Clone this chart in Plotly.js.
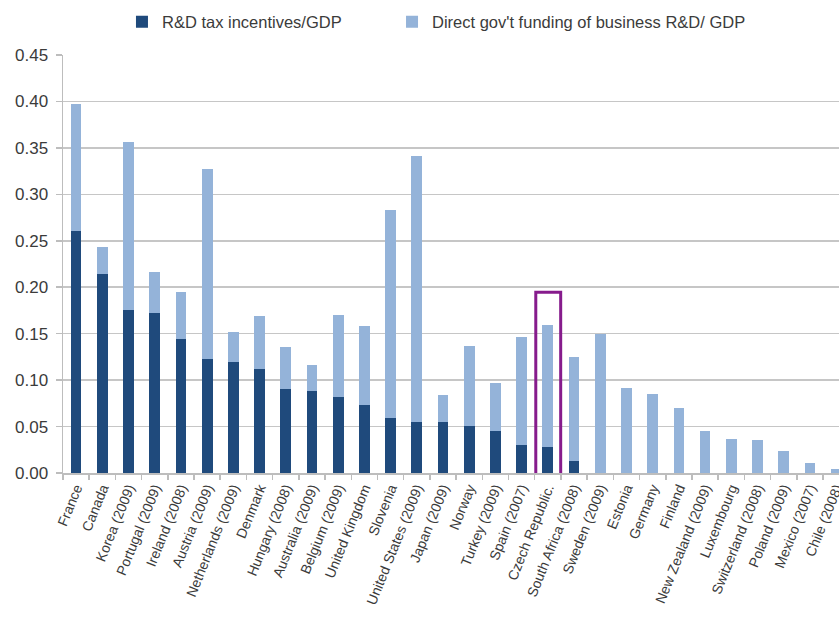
<!DOCTYPE html>
<html>
<head>
<meta charset="utf-8">
<script src="https://cdn.plot.ly/plotly-3.0.1.min.js"></script>
<style>html,body{margin:0;padding:0;background:#fff;overflow:hidden}#chart{width:839px;height:617px}</style>
</head>
<body>
<div id="chart"></div>
<script>
const countries = ["France","Canada","Korea (2009)","Portugal (2009)","Ireland (2008)","Austria (2009)","Netherlands (2009)","Denmark","Hungary (2008)","Australia (2009)","Belgium (2009)","United Kingdom","Slovenia","United States (2009)","Japan (2009)","Norway","Turkey (2009)","Spain (2007)","Czech Republic.","South Africa (2008)","Sweden (2009)","Estonia","Germany","Finland","New Zealand (2009)","Luxembourg","Switzerland (2008)","Poland (2009)","Mexico (2007)","Chile (2008)"];
const taxIncentives = [0.260,0.214,0.175,0.172,0.144,0.123,0.120,0.112,0.090,0.088,0.082,0.073,0.059,0.055,0.055,0.051,0.045,0.030,0.028,0.013,0,0,0,0,0,0,0,0,0,0];
const directFunding = [0.137,0.029,0.181,0.044,0.051,0.204,0.032,0.057,0.046,0.028,0.088,0.085,0.224,0.286,0.029,0.086,0.052,0.116,0.131,0.112,0.150,0.091,0.085,0.070,0.045,0.037,0.036,0.024,0.011,0.004];
const seriesNames = ["R&D tax incentives/GDP","Direct gov't funding of business R&D/ GDP"];
const yTicks = [0,0.05,0.10,0.15,0.20,0.25,0.30,0.35,0.40,0.45];

const FONT = "'Liberation Sans',Arial,sans-serif";
const TXT = "#3b3b3b";

const traces = [
  {type:"bar", name:seriesNames[0], x:countries, y:taxIncentives, marker:{color:"#1f4a7c"}, legend:"legend"},
  {type:"bar", name:seriesNames[1], x:countries, y:directFunding, marker:{color:"#94b3d9"}, legend:"legend2"}
];

const legendCommon = {orientation:"h", xanchor:"left", y:1.079, yanchor:"middle",
  font:{family:FONT, size:16.5, color:TXT}, itemwidth:30, bgcolor:"rgba(0,0,0,0)"};

const layout = {
  width:839, height:617,
  margin:{l:63, r:0, t:55, b:144},
  barmode:"stack", bargap:0.59,
  paper_bgcolor:"#fff", plot_bgcolor:"#fff",
  font:{family:FONT, color:TXT},
  showlegend:true,
  legend:Object.assign({}, legendCommon, {x:0.076}),
  legend2:Object.assign({}, legendCommon, {x:0.424}),
  xaxis:{type:"category", range:[-0.5,29.11], tickangle:-68, tickson:"boundaries",
         ticks:"outside", ticklen:5, tickcolor:"#bdbdbd", tickwidth:1.5,
         showline:true, linecolor:"#bdbdbd", linewidth:1.5, showgrid:false,
         tickfont:{family:FONT, size:14, color:TXT}, fixedrange:true},
  yaxis:{range:[0,0.45], tickvals:yTicks, tickformat:".2f",
         ticks:"outside", ticklen:6, tickcolor:"#bdbdbd", tickwidth:1.5,
         showline:true, linecolor:"#bdbdbd", linewidth:1.5,
         showgrid:true, gridcolor:"#c6c6c6", gridwidth:1.5, zeroline:false,
         tickfont:{family:FONT, size:17, color:TXT}, ticklabelstandoff:4},
  shapes:[{type:"rect", xref:"x", yref:"y", x0:17.54, x1:18.49, y0:-0.007, y1:0.1945,
           line:{color:"#861b8c", width:3}, fillcolor:"rgba(0,0,0,0)", layer:"above"}]
};

Plotly.newPlot("chart", traces, layout, {displayModeBar:false, staticPlot:true});
</script>
</body>
</html>
